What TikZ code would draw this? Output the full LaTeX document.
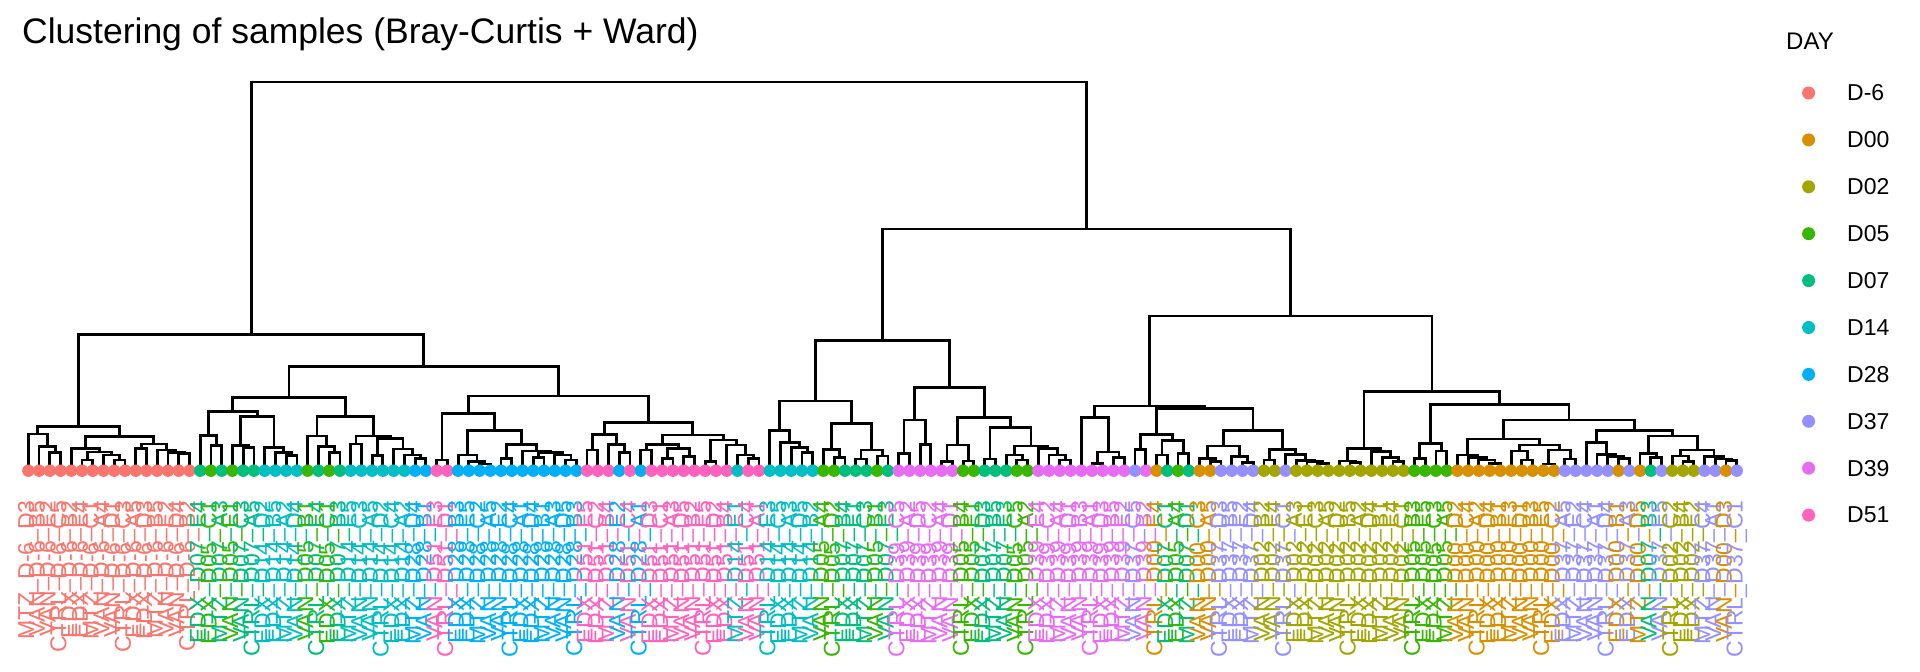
\documentclass[tikz,border=0pt]{standalone}
\usepackage{fontspec}
\setmainfont{Liberation Sans}
\usetikzlibrary{calc}
\definecolor{cA}{HTML}{F8766D}
\definecolor{cB}{HTML}{D89000}
\definecolor{cC}{HTML}{A3A500}
\definecolor{cD}{HTML}{39B600}
\definecolor{cE}{HTML}{00BF7D}
\definecolor{cF}{HTML}{00BFC4}
\definecolor{cG}{HTML}{00B0F6}
\definecolor{cH}{HTML}{9590FF}
\definecolor{cI}{HTML}{E76BF3}
\definecolor{cJ}{HTML}{FF62BC}
\def\dayA{D-6}\def\dayB{D00}\def\dayC{D02}\def\dayD{D05}\def\dayE{D07}
\def\dayF{D14}\def\dayG{D28}\def\dayH{D37}\def\dayI{D39}\def\dayJ{D51}
\newcommand\trtname[1]{\ifcase#1 EDX\or CTRL\or VAN\or MTZ\fi}
\newcommand\sufname[1]{\ifcase#1 A\or B\or C\or D\or E\fi}
\def\leafranges{1/16/A,17/17/E,18/18/D,19/19/E,20/20/D,21/22/E,23/26/F,27/27/D,28/28/E,29/29/D,30/30/E,31/36/F,37/38/G,39/40/J,41/52/G,53/55/J,56/56/G,57/57/J,58/58/G,59/66/J,67/67/F,68/69/J,70/74/F,75/76/D,77/79/E,80/80/D,81/81/E,82/87/I,88/89/D,90/92/E,93/94/D,95/103/I,104/104/H,105/105/I,106/106/B,107/107/E,108/108/D,109/109/E,110/111/B,112/115/H,116/117/C,118/118/H,119/129/C,130/133/D,134/143/B,144/148/H,149/149/B,150/150/H,151/151/B,152/152/E,153/153/H,154/156/C,157/158/H,159/159/B,160/160/H}
\tikzset{
  dend/.style={line width=2.8pt, black},
  leaflab/.style={rotate=90, anchor=east, inner sep=0pt, font=\fontsize{23}{23}\selectfont},
  leafdot/.style={circle, inner sep=0pt, minimum size=12.4pt},
  legdot/.style={circle, inner sep=0pt, minimum size=13pt},
  legtext/.style={anchor=west, inner sep=0pt, font=\fontsize{23}{23}\selectfont}
}
\newcommand\mrg[4]{%
  \path ($(#2)!0.5!(#3)$) coordinate (tmpmid);
  \coordinate (#1) at (tmpmid |- 0,#4);
  \draw[dend] (#2) |- (#1) -| (#3);
}
\begin{document}
\begin{tikzpicture}[x=1pt,y=-1pt]
\fill[white] (0,0) rectangle (1920,672);
\useasboundingbox (0,0) rectangle (1920,672);
\node[anchor=base west, inner sep=0pt, font=\fontsize{35.5}{40}\selectfont] (title) at (22,43) {Clustering of samples (Bray-Curtis + Ward)};
\foreach \i in {1,...,160} \coordinate (L\i) at ({28.3+10.745*(\i-1)},470.7);
% leaf labels
\foreach \a/\b/\k in \leafranges {
  \foreach \j in {\a,...,\b} {
    \pgfmathtruncatemacro\mytr{mod(\j*7+int(\j/3),4)}
    \pgfmathtruncatemacro\mysf{mod(\j*3+int(\j/5),5)}
    \pgfmathtruncatemacro\mydg{mod(\j*2+int(\j/4),5)+1}
    \node[leaflab, text=c\k] (lab\j) at ($(L\j)+(0,29.3)$) {\trtname{\mytr}\_\csname day\k\endcsname\_\sufname{\mysf}\mydg};
  }
}
% red cluster
\mrg{r34}{L3}{L4}{452.3}
\mrg{r234}{L2}{r34}{446.7}
\mrg{rA}{L1}{r234}{434}
\mrg{r67}{L6}{L7}{460}
\mrg{r910}{L9}{L10}{460}
\mrg{r8}{L8}{r910}{455}
\mrg{r610}{r67}{r8}{452}
\mrg{r5}{L5}{r610}{448.3}
\mrg{r1112}{L11}{L12}{448.3}
\mrg{r1516}{L15}{L16}{453.3}
\mrg{r14}{L14}{r1516}{452.3}
\mrg{r13}{L13}{r14}{450}
\mrg{rB2}{r1112}{r13}{444}
\mrg{rB}{r5}{rB2}{436.7}
\mrg{redC}{rA}{rB}{426.7}
% green / cyan cluster
\mrg{g1819}{L18}{L19}{445.7}
\mrg{g17}{L17}{g1819}{435.7}
\mrg{g2122}{L21}{L22}{447.3}
\mrg{g20}{L20}{g2122}{445.7}
\mrg{g2526}{L25}{L26}{455.7}
\mrg{g24}{L24}{g2526}{452.3}
\mrg{g23}{L23}{g24}{447.3}
\mrg{g2026}{g20}{g23}{416.7}
\mrg{gA}{g17}{g2026}{411.7}
\mrg{g2930}{L29}{L30}{452.3}
\mrg{g28}{L28}{g2930}{446.7}
\mrg{g27}{L27}{g28}{436}
\mrg{g3132}{L31}{L32}{444}
\mrg{g3334}{L33}{L34}{455.7}
\mrg{g3738}{L37}{L38}{458.3}
\mrg{g36}{L36}{g3738}{455}
\mrg{g35}{L35}{g36}{449}
\mrg{g3338}{g3334}{g35}{438.3}
\mrg{g3138}{g3132}{g3338}{436}
\mrg{gB}{g27}{g3138}{416.7}
\mrg{gAB}{gA}{gB}{397.3}
% pink / blue cluster
\mrg{p3940}{L39}{L40}{460}
\mrg{b4344}{L43}{L44}{464}
\mrg{b42}{L42}{b4344}{461.7}
\mrg{b41}{L41}{b42}{455}
\mrg{b4546}{L45}{L46}{458.3}
\mrg{b4849}{L48}{L49}{457.3}
\mrg{b5152}{L51}{L52}{460}
\mrg{b50}{L50}{b5152}{455}
\mrg{b4852}{b4849}{b50}{452.3}
\mrg{b47}{L47}{b4852}{451}
\mrg{b4552}{b4546}{b47}{444.3}
\mrg{b4152}{b41}{b4552}{430.7}
\mrg{pb}{p3940}{b4152}{413.3}
\mrg{p5354}{L53}{L54}{450}
\mrg{p5657}{L56}{L57}{452.3}
\mrg{p55}{L55}{p5657}{444.3}
\mrg{pC1}{p5354}{p55}{434.3}
\mrg{p5859}{L58}{L59}{450}
\mrg{p6061}{L60}{L61}{458.3}
\mrg{p6263}{L62}{L63}{456.7}
\mrg{p6063}{p6061}{p6263}{448.3}
\mrg{p5863}{p5859}{p6063}{444.3}
\mrg{p6465}{L64}{L65}{461.7}
\mrg{p6869}{L68}{L69}{458.3}
\mrg{p67}{L67}{p6869}{455}
\mrg{p66}{L66}{p67}{445}
\mrg{p6469}{p6465}{p66}{440}
\mrg{pC2}{p5863}{p6469}{435}
\mrg{pC}{pC1}{pC2}{422.7}
\mrg{pbC}{pb}{pC}{396}
\mrg{left2}{gAB}{pbC}{366.3}
\mrg{leftMain}{redC}{left2}{334.3}
% middle cluster
\mrg{c7374}{L73}{L74}{452.7}
\mrg{c72}{L72}{c7374}{447.3}
\mrg{c71}{L71}{c72}{442.2}
\mrg{c70}{L70}{c71}{430.7}
\mrg{c7677}{L76}{L77}{457.3}
\mrg{c75}{L75}{c7677}{449.3}
\mrg{c7879}{L78}{L79}{459}
\mrg{c8081}{L80}{L81}{456}
\mrg{c7881}{c7879}{c8081}{450}
\mrg{c7581}{c75}{c7881}{423.3}
\mrg{cmA}{c70}{c7581}{401}
\mrg{c8283}{L82}{L83}{453.3}
\mrg{c8485}{L84}{L85}{444.3}
\mrg{c8285}{c8283}{c8485}{420}
\mrg{c8687}{L86}{L87}{461.7}
\mrg{c8889}{L88}{L89}{461}
\mrg{c8689}{c8687}{c8889}{445}
\mrg{c9091}{L90}{L91}{459}
\mrg{c9394}{L93}{L94}{460}
\mrg{c92}{L92}{c9394}{455}
\mrg{c9798}{L97}{L98}{460}
\mrg{c96}{L96}{c9798}{455}
\mrg{c95}{L95}{c96}{448.3}
\mrg{c9298}{c92}{c95}{446}
\mrg{c9098}{c9091}{c9298}{427.3}
\mrg{c8698}{c8689}{c9098}{417.3}
\mrg{cmB}{c8285}{c8698}{387.7}
\mrg{midC}{cmA}{cmB}{340.5}
% right cluster
\mrg{d100101}{L100}{L101}{463.3}
\mrg{d102103}{L102}{L103}{457.3}
\mrg{d100103}{d100101}{d102103}{452}
\mrg{d99}{L99}{d100103}{417.7}
\mrg{d104105}{L104}{L105}{449.3}
\mrg{d106107}{L106}{L107}{455}
\mrg{d108109}{L108}{L109}{453.3}
\mrg{d106109}{d106107}{d108109}{440.7}
\mrg{d104109}{d104105}{d106109}{434.3}
\mrg{d111112}{L111}{L112}{461.7}
\mrg{d110}{L110}{d111112}{458.3}
\mrg{d114115}{L114}{L115}{462.7}
\mrg{d113}{L113}{d114115}{456.7}
\mrg{d110115}{d110}{d113}{446}
\mrg{d116117}{L116}{L117}{460}
\mrg{d121122}{L121}{L122}{463.3}
\mrg{d120}{L120}{d121122}{461.7}
\mrg{d119}{L119}{d120}{460.7}
\mrg{d118}{L118}{d119}{454.3}
\mrg{d116122}{d116117}{d118}{449.3}
\mrg{d110122}{d110115}{d116122}{430.7}
\mrg{d104122}{d104109}{d110122}{408.3}
\mrg{dA}{d99}{d104122}{406}
\mrg{e124125}{L124}{L125}{462.7}
\mrg{e123}{L123}{e124125}{461}
\mrg{e128129}{L128}{L129}{461.7}
\mrg{e127}{L127}{e128129}{457.3}
\mrg{e126}{L126}{e127}{451.7}
\mrg{e123129}{e123}{e126}{448.3}
\mrg{e130131}{L130}{L131}{458.3}
\mrg{e132133}{L132}{L133}{451}
\mrg{e130133}{e130131}{e132133}{443.3}
\mrg{f137138}{L137}{L138}{463.3}
\mrg{f136}{L136}{f137138}{460}
\mrg{f135}{L135}{f136}{457.3}
\mrg{f134}{L134}{f135}{455}
\mrg{f140141}{L140}{L141}{460}
\mrg{f139}{L139}{f140141}{451}
\mrg{f142143}{L142}{L143}{464}
\mrg{f144145}{L144}{L145}{459}
\mrg{f142145}{f142143}{f144145}{450}
\mrg{f139145}{f139}{f142145}{445}
\mrg{f134145}{f134}{f139145}{439}
\mrg{f149150}{L149}{L150}{458.3}
\mrg{f148}{L148}{f149150}{456.7}
\mrg{f147}{L147}{f148}{454.3}
\mrg{f146}{L146}{f147}{442.7}
\mrg{f152153}{L152}{L153}{457.3}
\mrg{f151}{L151}{f152153}{453.3}
\mrg{f155156}{L155}{L156}{461.7}
\mrg{f154}{L154}{f155156}{456}
\mrg{f159160}{L159}{L160}{460.7}
\mrg{f158}{L158}{f159160}{459}
\mrg{f157}{L157}{f158}{456.7}
\mrg{f154160}{f154}{f157}{450}
\mrg{f151160}{f151}{f154160}{436}
\mrg{f146160}{f146}{f151160}{430.7}
\mrg{f134160}{f134145}{f146160}{420}
\mrg{e130160}{e130133}{f134160}{404.3}
\mrg{eR}{e123129}{e130160}{391.7}
\mrg{right2}{dA}{eR}{316}
\mrg{rightMain}{midC}{right2}{229}
\mrg{root}{leftMain}{rightMain}{82}
% leaf dots
\foreach \a/\b/\k in \leafranges {
  \foreach \j in {\a,...,\b} {
    \node[leafdot, fill=c\k] (dot\j) at (L\j) {};
  }
}
% legend
\node[anchor=west, inner sep=0pt, font=\fontsize{24}{24}\selectfont] (legtitle) at (1786,41) {DAY};
\foreach \k/\n in {A/0,B/1,C/2,D/3,E/4,F/5,G/6,H/7,I/8,J/9} {
  \node[legdot, fill=c\k] (ld\k) at (1808.6,{93+46.9*\n}) {};
  \node[legtext] (lt\k) at (1847,{93+46.9*\n}) {\csname day\k\endcsname};
}
\end{tikzpicture}
\end{document}
